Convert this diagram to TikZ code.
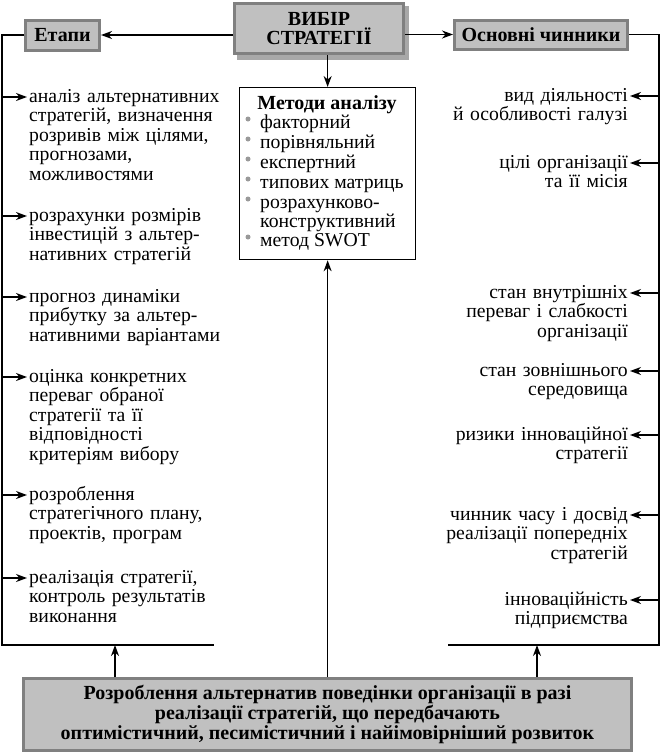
\documentclass[tikz,border=0pt]{standalone}
\usepackage{fontspec}
\setmainfont{Liberation Serif}
\usetikzlibrary{arrows.meta,calc}
\definecolor{boxfill}{HTML}{C0C0C0}
\definecolor{boxline}{HTML}{808080}
\definecolor{shadowc}{HTML}{A8A8A8}
\definecolor{bulletc}{HTML}{999999}
\begin{document}
\begin{tikzpicture}[x=1pt,y=-1pt,
  every node/.style={font=\fontsize{19.7}{19.6}\selectfont},
  graybox/.style={draw=boxline, fill=boxfill, line width=3pt, inner sep=0pt,
    font=\fontsize{20}{19.6}\selectfont\bfseries, align=center},
  arr/.style={-{Stealth[length=11pt,width=8pt,inset=3.5pt]}, line width=1.4pt},
  ln/.style={line width=1.4pt},
  litem/.style={anchor=base west, inner sep=0pt, text width=225pt, align=left},
  ritem/.style={anchor=base east, inner sep=0pt, text width=225pt, align=right},
  mitem/.style={anchor=base west, inner sep=0pt},
  bul/.style={fill=bulletc, circle, inner sep=0pt, minimum size=5pt},
]
\useasboundingbox (0,0) rectangle (663,755);

% top boxes
\fill[shadowc] (237,6) rectangle (409,60);
\node[graybox, minimum width=169pt, minimum height=50pt] (vybir) at (319,28.5) {ВИБІР\\СТРАТЕГІЇ};
\node[graybox, minimum width=74pt, minimum height=30pt] (etapy) at (62.5,35) {Етапи};
\node[graybox, minimum width=173pt, minimum height=29pt] (osn) at (541,34.5) {Основні чинники};
\draw[arr] (vybir.west |- etapy) -- (etapy.east);
\draw[arr] (vybir.east |- osn) -- (osn.west);

% methods box
\node[draw, line width=1.3pt, minimum width=176pt, minimum height=172pt, inner sep=0pt, anchor=north west] (metody) at (239,87) {};
\draw[arr] (metody.north |- vybir.south) -- (metody.north);
\node[anchor=base, inner sep=0pt, font=\fontsize{20}{19.6}\selectfont\bfseries] (mtitle) at (327,109) {Методи аналізу};
\node[mitem] (m1) at (260,128) {факторний};
\node[mitem] (m2) at (260,148) {порівняльний};
\node[mitem] (m3) at (260,168) {експертний};
\node[mitem] (m4) at (260,188) {типових матриць};
\node[mitem] (m5) at (260,208) {розрахунково-};
\node[mitem] (m5b) at (260,227) {конструктивний};
\node[mitem] (m6) at (260,246) {метод SWOT};
\foreach \m in {m1,m2,m3,m4,m5,m6} {
  \node[bul] at ([xshift=-12pt,yshift=9pt]\m.base west) {};
}

% left column
\coordinate (ltop) at (2,0);
\coordinate (lcorner) at (2,645);
\coordinate (lend) at (214,645);
\draw[ln] (etapy.west) -- (etapy.west -| ltop) -- (lcorner) -- (lend);
\node[litem] (e1) at (29,102) {аналіз альтернативних\\стратегій, визначення\\розривів між цілями,\\прогнозами,\\можливостями};
\node[litem] (e2) at (29,221) {розрахунки розмірів\\інвестицій з альтер-\\нативних стратегій};
\node[litem] (e3) at (29,302) {прогноз динаміки\\прибутку за альтер-\\нативними варіантами};
\node[litem] (e4) at (29,382) {оцінка конкретних\\переваг обраної\\стратегії та її\\відповідності\\критеріям вибору};
\node[litem] (e5) at (29,500) {розроблення\\стратегічного плану,\\проектів, програм};
\node[litem] (e6) at (29,583) {реалізація стратегії,\\контроль результатів\\виконання};
\foreach \e in {e1,e2,e3,e4,e5,e6} {
  \coordinate (\e a) at ([xshift=-2pt,yshift=5pt]\e.base west);
  \draw[arr] (\e a -| ltop) -- (\e a);
}

% right column
\coordinate (rtop) at (659,0);
\coordinate (rcorner) at (659,645);
\coordinate (rend) at (448,645);
\draw[ln] (osn.east) -- (osn.east -| rtop) -- (rcorner) -- (rend);
\node[ritem] (f1) at (628,101) {вид діяльності\\й особливості галузі};
\node[ritem] (f2) at (628,168) {цілі організації\\та її місія};
\node[ritem] (f3) at (628,298) {стан внутрішніх\\переваг і слабкості\\організації};
\node[ritem] (f4) at (628,376) {стан зовнішнього\\середовища};
\node[ritem] (f5) at (628,440) {ризики інноваційної\\стратегії};
\node[ritem] (f6) at (628,520) {чинник часу і досвід\\реалізації попередніх\\стратегій};
\node[ritem] (f7) at (628,605) {інноваційність\\підприємства};
\foreach \f in {f1,f2,f3,f4,f5,f6,f7} {
  \coordinate (\f a) at ([xshift=2pt,yshift=5pt]\f.base east);
  \draw[arr] (\f a -| rtop) -- (\f a);
}

% bottom box
\node[graybox, minimum width=608pt, minimum height=72pt] (bottom) at (327.5,714.5)
  {Розроблення альтернатив поведінки організації в разі\\реалізації стратегій, що передбачають\\оптимістичний, песимістичний і найімовірніший розвиток};
\coordinate (lup) at (115,645);
\coordinate (rup) at (537,645);
\draw[arr] (lup |- bottom.north) -- (lup);
\draw[arr] (rup |- bottom.north) -- (rup);
\draw[arr] (metody.south |- bottom.north) -- (metody.south);
\end{tikzpicture}
\end{document}
